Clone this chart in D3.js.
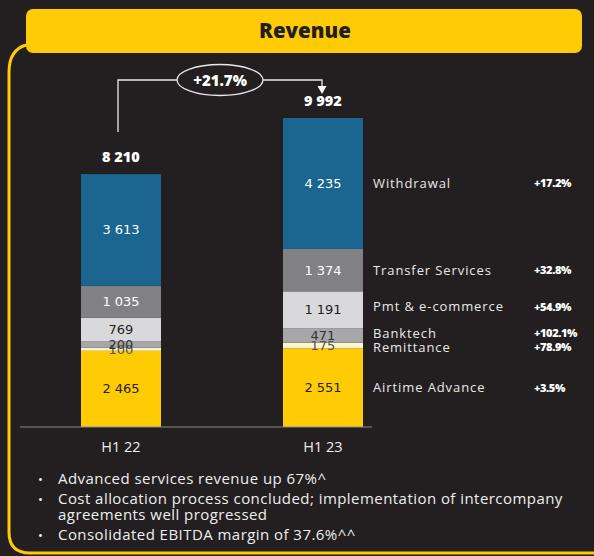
<!DOCTYPE html>
<html>
<head>
<meta charset="utf-8">
<script src="https://cdn.jsdelivr.net/npm/d3@7"></script>
<style>
  html, body { margin: 0; padding: 0; background: #231f20; }
  svg { display: block; }
</style>
</head>
<body>
<svg id="chart"></svg>
<script>
const categories = ['H1 22', 'H1 23']
const series = ['Airtime Advance', 'Remittance', 'Banktech', 'Pmt & e-commerce', 'Transfer Services', 'Withdrawal']
const h122 = [2465, 100, 200, 769, 1035, 3613]
const h123 = [2551, 175, 471, 1191, 1374, 4235]
const totals = [8210, 9992]
const growth = ['+3.5%', '+78.9%', '+102.1%', '+54.9%', '+32.8%', '+17.2%']
const totalGrowth = '+21.7%'
const bullets = [
  ['Advanced services revenue up 67%^'],
  ['Cost allocation process concluded; implementation of intercompany', 'agreements well progressed'],
  ['Consolidated EBITDA margin of 37.6%^^']
]

const colors = ['#ffcb05', '#fff4cf', '#a7a7aa', '#d9d9db', '#818184', '#1a6690']
const labelColors = ['#231f20', '#555', '#333', '#231f20', '#fff', '#fff']

const width = 594
const height = 556
const font = '"Open Sans", Lato, sans-serif'
const numFont = '"DejaVu Sans", Verdana, sans-serif'

const svg = d3.select('svg#chart')
  .attr('width', width)
  .attr('height', height)

// frame
svg.append('path')
  .attr('d', 'M26,45 Q9,50 9,72 L9,532 Q9,553 30,553 L594,553')
  .attr('fill', 'none')
  .attr('stroke', '#ffcb05')
  .attr('stroke-width', 3)

// header
svg.append('rect')
  .attr('x', 26).attr('y', 9)
  .attr('width', 556).attr('height', 44)
  .attr('rx', 7)
  .attr('fill', '#ffcb05')
svg.append('text')
  .attr('x', 305).attr('y', 38)
  .attr('text-anchor', 'middle')
  .attr('font-family', font)
  .attr('font-weight', 800)
  .attr('font-size', 20.5)
  .attr('fill', '#231f20')
  .text('Revenue')

const table = categories.map((c, ci) => {
  const o = { cat: c }
  series.forEach((s, i) => { o[s] = ci === 0 ? h122[i] : h123[i] })
  return o
})
const stack = d3.stack().keys(series)(table)

const x = d3.scalePoint().domain(categories).range([121, 323])
const barW = 80
const y = d3.scaleLinear().domain([0, d3.max(stack[stack.length - 1], d => d[1])]).range([427, 118])

const g = svg.append('g')

const layer = g.selectAll('.layer')
  .data(stack)
  .enter().append('g')
  .attr('fill', (d, i) => colors[i])

layer.selectAll('rect')
  .data(d => d)
  .enter().append('rect')
  .attr('x', d => x(d.data.cat) - barW / 2)
  .attr('width', barW)
  .attr('y', d => y(d[1]))
  .attr('height', d => y(d[0]) - y(d[1]))

// segment value labels
stack.forEach((s, i) => {
  g.selectAll('.v' + i)
    .data(s)
    .enter().append('text')
    .attr('x', d => x(d.data.cat))
    .attr('y', d => (y(d[0]) + y(d[1])) / 2 + 4.5)
    .attr('text-anchor', 'middle')
    .attr('font-family', numFont)
    .attr('font-size', 13)
    .attr('fill', labelColors[i])
    .text(d => d3.format(',')(d[1] - d[0]).replace(/,/g, ' '))
})

// baseline
svg.append('line')
  .attr('x1', 20).attr('x2', 372)
  .attr('y1', y(0)).attr('y2', y(0))
  .attr('stroke', '#8a8a8c')
  .attr('stroke-width', 1.2)

// category labels
svg.selectAll('.cat')
  .data(categories)
  .enter().append('text')
  .attr('x', d => x(d))
  .attr('y', 452)
  .attr('text-anchor', 'middle')
  .attr('font-family', font)
  .attr('font-size', 14.5)
  .attr('fill', '#eee')
  .text(d => d)

// totals
svg.selectAll('.tot')
  .data(categories)
  .enter().append('text')
  .attr('x', d => x(d))
  .attr('y', (d, i) => y(d3.sum(i === 0 ? h122 : h123)) - 12)
  .attr('text-anchor', 'middle')
  .attr('font-family', font)
  .attr('font-weight', 800)
  .attr('font-size', 14.5)
  .attr('fill', '#fff')
  .text((d, i) => d3.format(',')(totals[i]).replace(/,/g, ' '))

// growth bracket
const bx1 = x(categories[0]) - 3
const bx2 = x(categories[1]) - 1
const by = 80
svg.append('path')
  .attr('d', `M${bx1},${y(d3.sum(h122)) - 42} L${bx1},${by} L${bx2},${by} L${bx2},${by + 8}`)
  .attr('fill', 'none')
  .attr('stroke', '#e8e8e8')
  .attr('stroke-width', 1.3)
svg.append('path')
  .attr('d', `M${bx2 - 4.5},${by + 6} L${bx2 + 4.5},${by + 6} L${bx2},${by + 14} Z`)
  .attr('fill', '#fff')
svg.append('ellipse')
  .attr('cx', 220).attr('cy', by)
  .attr('rx', 43).attr('ry', 15.5)
  .attr('fill', '#231f20')
  .attr('stroke', '#e8e8e8')
  .attr('stroke-width', 1.3)
svg.append('text')
  .attr('x', 220).attr('y', by + 5.5)
  .attr('text-anchor', 'middle')
  .attr('font-family', font)
  .attr('font-weight', 800)
  .attr('font-size', 15)
  .attr('fill', '#fff')
  .text(totalGrowth)

// right side legend labels, placed at H1 23 segment middles with a small dodge
const last = stack.map(s => s[1])
const ys = last.map(d => (y(d[0]) + y(d[1])) / 2)
for (let i = 1; i < ys.length; i++) {
  if (ys[i - 1] - ys[i] < 14) {
    const mid = (ys[i - 1] + ys[i]) / 2
    ys[i - 1] = mid + 7
    ys[i] = mid - 7
  }
}
ys[3] -= 3
const legend = svg.append('g')
series.forEach((s, i) => {
  legend.append('text')
    .attr('x', 373).attr('y', ys[i] + 4.5)
    .attr('font-family', font)
    .attr('font-size', 13)
    .attr('letter-spacing', 0.9)
    .attr('fill', '#e8e8e8')
    .text(s)
  legend.append('text')
    .attr('x', 534).attr('y', ys[i] + 4)
    .attr('font-family', font)
    .attr('font-weight', 800)
    .attr('font-size', 11)
    .attr('letter-spacing', -0.4)
    .attr('fill', '#fff')
    .text(growth[i])
})

// bullets
let by0 = 484
const bl = svg.append('g')
bullets.forEach(lines => {
  bl.append('text')
    .attr('x', 38).attr('y', by0)
    .attr('font-family', font)
    .attr('font-size', 13)
    .attr('fill', '#eee')
    .text('•')
  lines.forEach((t, j) => {
    bl.append('text')
      .attr('x', 58).attr('y', by0 + j * 16)
      .attr('font-family', font)
      .attr('font-size', 15)
      .attr('letter-spacing', 0.45)
      .attr('fill', '#eee')
      .text(t)
  })
  by0 += lines.length * 16 + 4
})
</script>
</body>
</html>
